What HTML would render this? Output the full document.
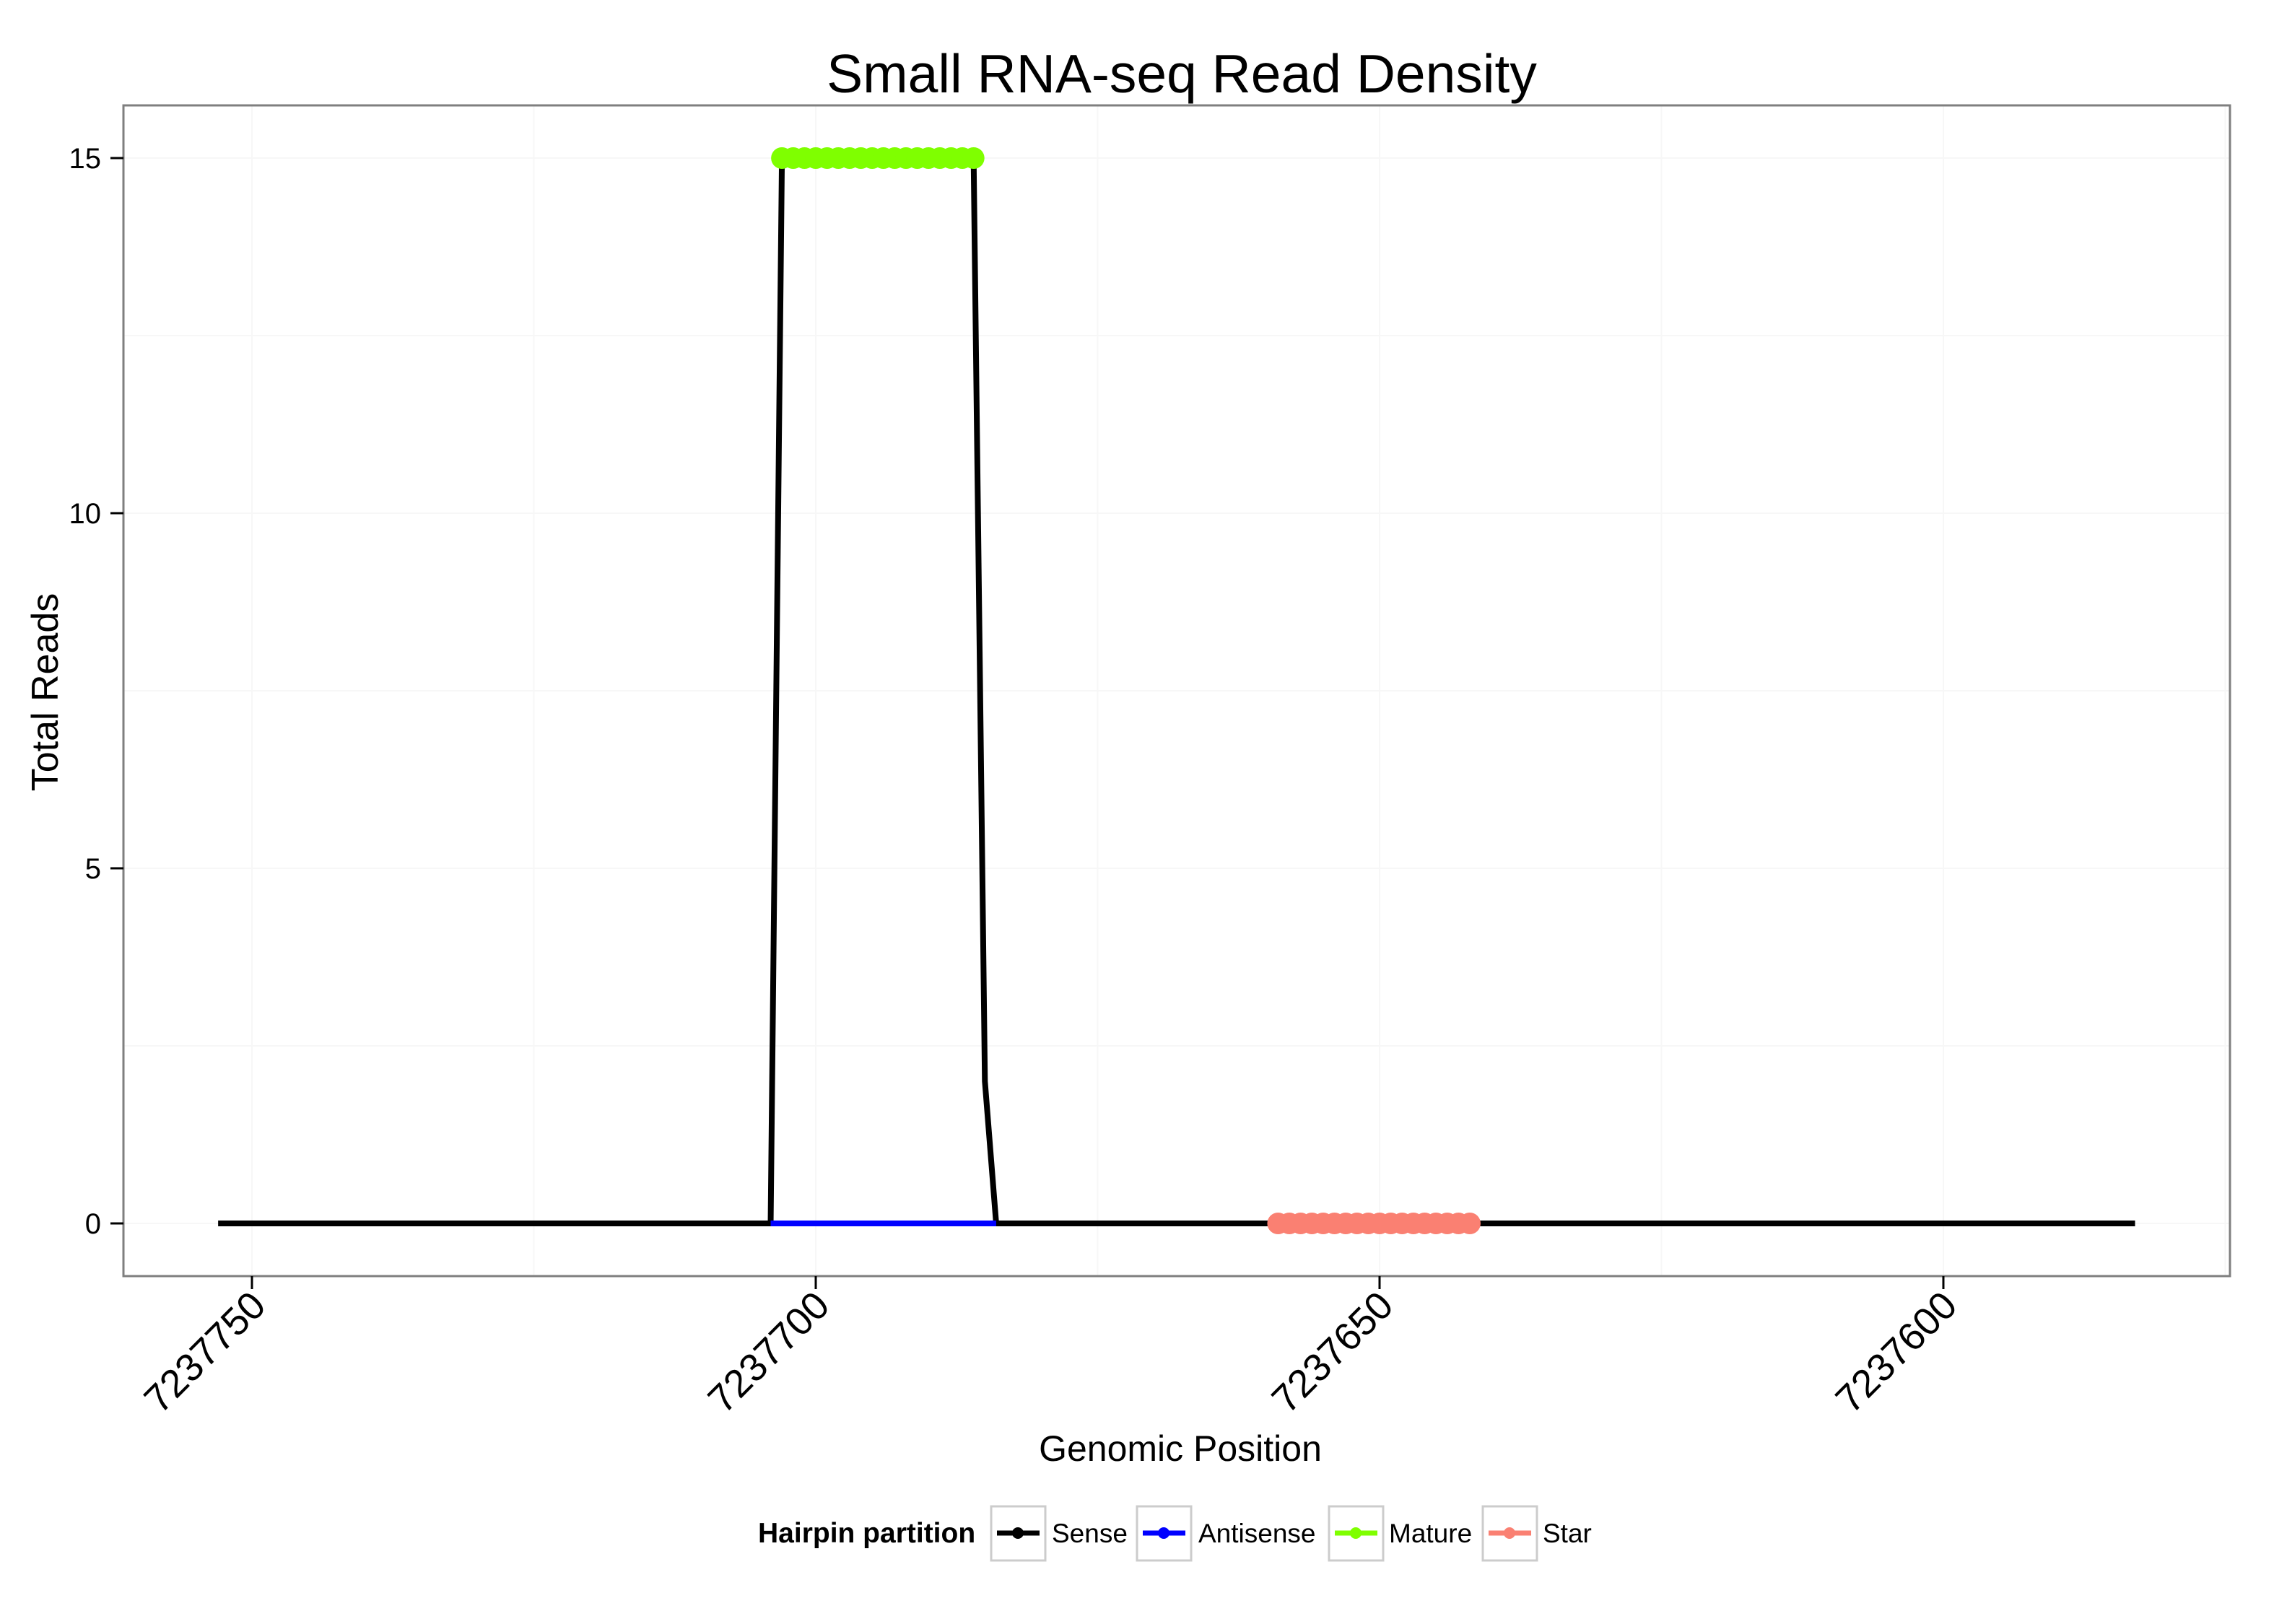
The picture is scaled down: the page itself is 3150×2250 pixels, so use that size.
<!DOCTYPE html>
<html><head><meta charset="utf-8"><style>
html,body{margin:0;padding:0;background:#fff}
svg{display:block;font-family:"Liberation Sans",sans-serif}
</style></head><body>
<svg id="chart" width="3150" height="2250" viewBox="0 0 3150 2250">
<rect width="3150" height="2250" fill="#fff"/>
<text x="1637" y="128" font-size="75" text-anchor="middle">Small RNA-seq Read Density</text>
<g id="grid"></g>
<g id="marks"></g>
<rect x="171" y="146" width="2918" height="1622" fill="none" stroke="#7f7f7f" stroke-width="3"/>
<g id="axes"></g>
<text transform="translate(80,959) rotate(-90)" font-size="52" text-anchor="middle">Total Reads</text>
<text x="1635" y="2024" font-size="50" text-anchor="middle">Genomic Position</text>
<g>
<text x="1050" y="2137" font-size="39" font-weight="bold">Hairpin partition</text>
<g>
<rect x="1373" y="2087" width="75" height="75" fill="#fff" stroke="#ccc" stroke-width="3"/>
<line x1="1381" y1="2124" x2="1440" y2="2124" stroke="#000" stroke-width="7"/><circle cx="1410" cy="2124" r="8" fill="#000"/>
<text x="1457" y="2137" font-size="37">Sense</text></g>
<g>
<rect x="1575" y="2087" width="75" height="75" fill="#fff" stroke="#ccc" stroke-width="3"/>
<line x1="1583" y1="2124" x2="1642" y2="2124" stroke="#0000ff" stroke-width="7"/><circle cx="1612" cy="2124" r="8" fill="#0000ff"/>
<text x="1660" y="2137" font-size="37">Antisense</text></g>
<g>
<rect x="1841" y="2087" width="75" height="75" fill="#fff" stroke="#ccc" stroke-width="3"/>
<line x1="1849" y1="2124" x2="1908" y2="2124" stroke="#7fff00" stroke-width="7"/><circle cx="1878" cy="2124" r="8" fill="#7fff00"/>
<text x="1924" y="2137" font-size="37">Mature</text></g>
<g>
<rect x="2054" y="2087" width="75" height="75" fill="#fff" stroke="#ccc" stroke-width="3"/>
<line x1="2062" y1="2124" x2="2121" y2="2124" stroke="#fa8072" stroke-width="7"/><circle cx="2091" cy="2124" r="8" fill="#fa8072"/>
<text x="2137" y="2137" font-size="37">Star</text></g>
</g>
</svg>
<script>
const xTicks = [7237750, 7237700, 7237650, 7237600];
const xTickLabels = ["7237750", "7237700", "7237650", "7237600"];
const yTicks = [0, 5, 10, 15];
const yTickLabels = ["0", "5", "10", "15"];
const sensePos = [7237753, 7237704, 7237703, 7237686, 7237685, 7237684, 7237583];
const senseReads = [0, 0, 15, 15, 2, 0, 0];
const antisensePos = [7237704, 7237684];
const antisenseReads = [0, 0];
const maturePos = [7237703,7237702,7237701,7237700,7237699,7237698,7237697,7237696,7237695,7237694,7237693,7237692,7237691,7237690,7237689,7237688,7237687,7237686];
const matureReads = [15,15,15,15,15,15,15,15,15,15,15,15,15,15,15,15,15,15];
const starPos = [7237659,7237658,7237657,7237656,7237655,7237654,7237653,7237652,7237651,7237650,7237649,7237648,7237647,7237646,7237645,7237644,7237643,7237642];
const starReads = [0,0,0,0,0,0,0,0,0,0,0,0,0,0,0,0,0,0];

const NS = "http://www.w3.org/2000/svg";
const X0 = 349, PX_PER_UNIT = 15.62;
function xs(v){ return X0 + (7237750 - v) * PX_PER_UNIT; }
function ys(v){ return 1695 - v * 98.4; }
function mk(tag, attrs, parent){ const e = document.createElementNS(NS, tag); for (const k in attrs) e.setAttribute(k, attrs[k]); parent.appendChild(e); return e; }

const grid = document.getElementById('grid');
const marks = document.getElementById('marks');
const axes = document.getElementById('axes');

for (let i = 0; i < xTicks.length; i++) {
  for (const v of [xTicks[i], xTicks[i] - 25]) {
    const x = xs(v);
    if (x < 171 || x > 3089) continue;
    const g = mk('line', {x1:x, x2:x, y1:146, y2:1768, stroke:'#f7f7f7', 'stroke-width':2}, grid);
    
    
  }
}
for (let i = 0; i < yTicks.length; i++) {
  for (const v of [yTicks[i], yTicks[i] + 2.5]) {
    const y = ys(v);
    if (y < 146) continue;
    const g = mk('line', {x1:171, x2:3089, y1:y, y2:y, stroke:'#f7f7f7', 'stroke-width':2}, grid);
    
    
  }
}

function series(pos, vals, color, name){
  const p = mk('polyline', {points: pos.map((v,i)=>xs(v)+','+ys(vals[i])).join(' '), fill:'none', stroke:color, 'stroke-width':8, 'stroke-linejoin':'round'}, marks);
  
  
}
function points(pos, vals, color, name){
  pos.forEach((v,i)=>{
    const c = mk('circle', {cx:xs(v), cy:ys(vals[i]), r:15, fill:color}, marks);
    
    
  });
}
series(sensePos, senseReads, '#000', 'sense-line');
series(antisensePos, antisenseReads, '#0000ff', 'antisense-line');
points(maturePos, matureReads, '#7fff00', 'mature-point');
points(starPos, starReads, '#fa8072', 'star-point');

xTicks.forEach((v,i)=>{
  const x = xs(v);
  const t = mk('line', {x1:x, x2:x, y1:1768, y2:1786, stroke:'#000', 'stroke-width':3}, axes);
  
  
  const l = mk('text', {transform:`translate(${x+22},${1812}) rotate(-45)`, 'font-size':54, 'text-anchor':'end'}, axes);
  l.textContent = xTickLabels[i];
  
  
});
yTicks.forEach((v,i)=>{
  const y = ys(v);
  const t = mk('line', {x1:153, x2:171, y1:y, y2:y, stroke:'#000', 'stroke-width':3}, axes);
  
  
  const l = mk('text', {x:140, y:y+14, 'font-size':40, 'text-anchor':'end'}, axes);
  l.textContent = yTickLabels[i];
  
  
});
</script>
</body></html>
